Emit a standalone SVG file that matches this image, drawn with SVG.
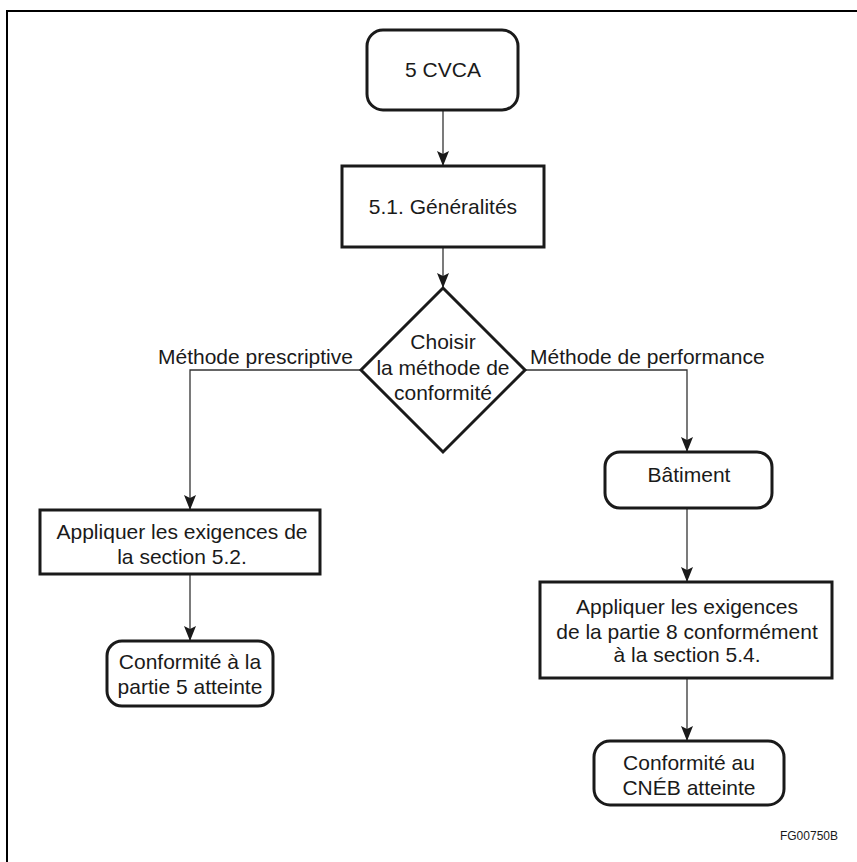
<svg xmlns="http://www.w3.org/2000/svg" width="857" height="862" viewBox="0 0 857 862">
  <style>
    .frame { fill: none; stroke: #000; stroke-width: 2; }
    .node { fill: #fff; stroke: #1a1a1a; stroke-width: 3; }
    .link { fill: none; stroke: #333; stroke-width: 1.3; }
    text { font-family: "Liberation Sans", Arial, sans-serif; font-size: 21px; fill: #1a1a1a; }
    .c { text-anchor: middle; }
    .code { font-size: 12px; text-anchor: end; }
  </style>
  <defs>
    <marker id="tip" markerUnits="userSpaceOnUse" markerWidth="16" markerHeight="12" viewBox="0 0 16 12" refX="15" refY="6" orient="auto">
      <path d="M0,0 L15,6 L0,12 L3,6 Z" fill="#1a1a1a"/>
    </marker>
  </defs>

  <!-- page frame (top and left rules) -->
  <path class="frame" d="M7,862 V11 H857"/>

  <g id="connectors">
    <path class="link" marker-end="url(#tip)" d="M443,110 V166"/>
    <path class="link" marker-end="url(#tip)" d="M443,247 V288"/>
    <path class="link" marker-end="url(#tip)" d="M361,370 H190 V510"/>
    <path class="link" marker-end="url(#tip)" d="M525,370 H687 V452"/>
    <path class="link" marker-end="url(#tip)" d="M190,574 V641"/>
    <path class="link" marker-end="url(#tip)" d="M687,508 V582"/>
    <path class="link" marker-end="url(#tip)" d="M687,678 V741"/>
  </g>

  <g id="labels">
    <text x="158" y="364">Méthode prescriptive</text>
    <text x="530" y="364">Méthode de performance</text>
  </g>

  <g id="n-cvca">
    <rect class="node" x="367" y="30" width="151" height="80" rx="16"/>
    <text class="c" x="443" y="77">5 CVCA</text>
  </g>

  <g id="n-generalites">
    <rect class="node" x="342" y="166" width="202" height="81"/>
    <text class="c" x="443" y="214">5.1. Généralités</text>
  </g>

  <g id="n-choix">
    <polygon class="node" points="443,288 525,370 443,452 361,370"/>
    <text class="c" x="443" y="349">Choisir</text>
    <text class="c" x="443" y="375">la méthode de</text>
    <text class="c" x="443" y="400">conformité</text>
  </g>

  <g id="n-prescriptive">
    <rect class="node" x="40" y="510" width="280" height="64"/>
    <text class="c" x="182" y="539">Appliquer les exigences de</text>
    <text class="c" x="182" y="564">la section 5.2.</text>
  </g>

  <g id="n-partie5">
    <rect class="node" x="107" y="641" width="166" height="65" rx="15"/>
    <text class="c" x="190" y="669">Conformité à la</text>
    <text class="c" x="190" y="694">partie 5 atteinte</text>
  </g>

  <g id="n-batiment">
    <rect class="node" x="605" y="452" width="167" height="56" rx="15"/>
    <text class="c" x="689" y="482">Bâtiment</text>
  </g>

  <g id="n-partie8">
    <rect class="node" x="540" y="582" width="292" height="96"/>
    <text class="c" x="687" y="614">Appliquer les exigences</text>
    <text class="c" x="687" y="639">de la partie 8 conformément</text>
    <text class="c" x="687" y="662">à la section 5.4.</text>
  </g>

  <g id="n-cneb">
    <rect class="node" x="594" y="741" width="190" height="64" rx="16"/>
    <text class="c" x="689" y="770">Conformité au</text>
    <text class="c" x="689" y="795">CNÉB atteinte</text>
  </g>

  <text class="code" x="838" y="840">FG00750B</text>
</svg>
